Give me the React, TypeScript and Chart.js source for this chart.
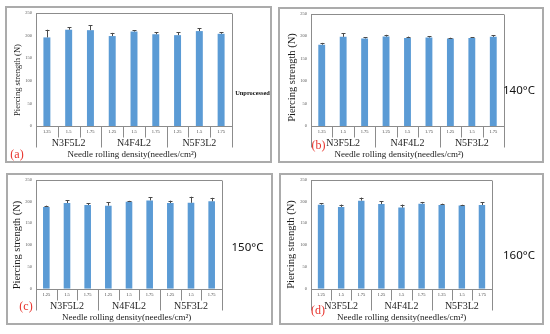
import React, { useEffect, useRef } from 'react';
import { Chart, registerables } from 'chart.js';
Chart.register(...registerables);

// ---- data ----
const densityLabels = ['1.25', '1.5', '1.75', '1.25', '1.5', '1.75', '1.25', '1.5', '1.75'];
const groupLabels = ['N3F5L2', 'N4F4L2', 'N5F3L2'];

const unprocessedValues = [196, 213, 212, 199, 209, 203, 201, 210, 204];
const unprocessedErrors = [17, 6, 11, 7, 3, 4, 6, 6, 3];

const t140Values = [181, 198.5, 195, 199, 196, 197, 195, 196, 198.5];
const t140Errors = [4, 8, 3, 4, 3, 2.5, 1.5, 2, 3];

const t150Values = [187.5, 196.5, 192, 190.5, 199.5, 202.5, 196.5, 197, 200.5];
const t150Errors = [3, 6, 4, 8, 2, 7, 5.5, 14, 8];

const t160Values = [192.8, 187.5, 202, 194, 186, 195, 192, 191, 192];
const t160Errors = [3, 5.5, 7, 6, 7, 4, 3, 1.5, 6.5];

const yTitle = 'Piercing strength (N)';
const xTitle = 'Needle rolling density(needles/cm²)';

// ---- styles ----
const SERIF = '"Liberation Serif", "Times New Roman", serif';
const SANS = '"Noto Sans", "Liberation Sans", sans-serif';
const BAR = '#5B9BD5';

type Spec = {
  letter: string;
  side: string;
  sideFont: string;
  values: number[];
  errors: number[];
  left: number; top: number; w: number; h: number;
  plotLeft: number; plotTop: number; plotRight: number; zero: number;
  yTitleX: number; yTitleY: number; yTitleSize: number;
  xTitleX: number;
  letterX: number; letterY: number;
  sideX: number; sideY: number;
};

const panels: Spec[] = [
  {
    letter: '(a)', side: 'Unprocessed', sideFont: `bold 6.4px ${SERIF}`,
    values: unprocessedValues, errors: unprocessedErrors,
    left: 5, top: 6, w: 267, h: 157,
    plotLeft: 31, plotTop: 7, plotRight: 227, zero: 120,
    yTitleX: 12.5, yTitleY: 74, yTitleSize: 8.5, xTitleX: 127,
    letterX: 12, letterY: 149, sideX: 247.5, sideY: 87,
  },
  {
    letter: '(b)', side: '140°C', sideFont: `11.5px ${SANS}`,
    values: t140Values, errors: t140Errors,
    left: 278, top: 7, w: 266, h: 156,
    plotLeft: 33, plotTop: 6, plotRight: 226, zero: 119,
    yTitleX: 14, yTitleY: 70.5, yTitleSize: 10.5, xTitleX: 121,
    letterX: 40.5, letterY: 139, sideX: 241, sideY: 84,
  },
  {
    letter: '(c)', side: '150°C', sideFont: `11.5px ${SANS}`,
    values: t150Values, errors: t150Errors,
    left: 6, top: 173, w: 267, h: 152,
    plotLeft: 30, plotTop: 5, plotRight: 216, zero: 115.7,
    yTitleX: 11, yTitleY: 72, yTitleSize: 10.5, xTitleX: 120.7,
    letterX: 20, letterY: 134, sideX: 241.5, sideY: 74.5,
  },
  {
    letter: '(d)', side: '160°C', sideFont: `11.5px ${SANS}`,
    values: t160Values, errors: t160Errors,
    left: 279, top: 173, w: 265, h: 152,
    plotLeft: 32, plotTop: 5, plotRight: 213, zero: 115.7,
    yTitleX: 12, yTitleY: 71.5, yTitleSize: 10.5, xTitleX: 122.7,
    letterX: 39, letterY: 138, sideX: 240, sideY: 83,
  },
];

function decor(spec: Spec) {
  return {
    id: 'decor' + spec.letter,
    afterDatasetsDraw(chart: any) {
      const ctx = chart.ctx;
      const ys = chart.scales.y;
      const meta = chart.getDatasetMeta(0);
      ctx.save();
      ctx.strokeStyle = '#4a4a4a';
      ctx.lineWidth = 1;
      meta.data.forEach((bar: any, i: number) => {
        const x = Math.round(bar.x) + 0.5;
        const y1 = ys.getPixelForValue(spec.values[i]);
        const y2 = ys.getPixelForValue(spec.values[i] + spec.errors[i]);
        ctx.beginPath();
        ctx.moveTo(x, y1);
        ctx.lineTo(x, y2);
        ctx.moveTo(x - 2, Math.round(y2) + 0.5);
        ctx.lineTo(x + 2, Math.round(y2) + 0.5);
        ctx.stroke();
      });
      ctx.restore();
    },
    afterDraw(chart: any) {
      const ctx = chart.ctx;
      const { left, right, top, bottom } = chart.chartArea;
      const xs = chart.scales.x;
      const { w, h } = spec;
      ctx.save();
      // panel border
      ctx.strokeStyle = '#ababab';
      ctx.lineWidth = 2;
      ctx.strokeRect(1, 1, w - 2, h - 2);

      // plot frame
      ctx.strokeStyle = '#8c8c8c';
      ctx.lineWidth = 1;
      const T = Math.round(top) + 0.5;
      const B = Math.round(bottom) + 0.5;
      ctx.beginPath();
      ctx.moveTo(left, T);
      ctx.lineTo(right, T);
      ctx.moveTo(left, B);
      ctx.lineTo(right, B);
      const n = densityLabels.length;
      const cw = (right - left) / n;
      for (let i = 0; i <= n; i++) {
        const x = Math.round(left + i * cw) + 0.5;
        const isGroup = i % 3 === 0;
        const y0 = i === 0 || i === n ? T : B;
        const y1 = B + (isGroup ? 21 : 11);
        ctx.moveTo(x, y0);
        ctx.lineTo(x, y1);
      }
      ctx.stroke();

      // density tick labels
      ctx.fillStyle = '#404040';
      ctx.font = `4.5px ${SERIF}`;
      ctx.textAlign = 'center';
      ctx.textBaseline = 'middle';
      densityLabels.forEach((lab, i) => {
        ctx.fillText(lab, xs.getPixelForValue(i), bottom + 6);
      });

      // group labels
      ctx.fillStyle = '#262626';
      ctx.font = `10px ${SERIF}`;
      groupLabels.forEach((g, k) => {
        const cx = left + (k * 3 + 1.5) * cw;
        ctx.fillText(g, cx, bottom + 17.5);
      });

      // x title
      ctx.font = `9px ${SERIF}`;
      ctx.fillStyle = '#1a1a1a';
      ctx.fillText(xTitle, spec.xTitleX, bottom + 29);

      // y title
      ctx.save();
      ctx.translate(spec.yTitleX, spec.yTitleY);
      ctx.rotate(-Math.PI / 2);
      ctx.font = `${spec.yTitleSize}px ${SERIF}`;
      ctx.fillStyle = '#1a1a1a';
      ctx.fillText(yTitle, 0, 0);
      ctx.restore();

      // panel letter
      ctx.font = `12px ${SERIF}`;
      ctx.fillStyle = '#e8332c';
      ctx.fillText(spec.letter, spec.letterX, spec.letterY);

      // side label
      ctx.font = spec.sideFont;
      ctx.fillStyle = '#111111';
      ctx.fillText(spec.side, spec.sideX, spec.sideY);
      ctx.restore();
    },
  };
}

function Panel({ spec }: { spec: Spec }) {
  const ref = useRef<HTMLCanvasElement>(null);
  useEffect(() => {
    if (!ref.current) return;
    const chart = new Chart(ref.current, {
      type: 'bar',
      data: {
        labels: densityLabels,
        datasets: [
          {
            data: spec.values,
            backgroundColor: BAR,
            borderWidth: 0,
            barPercentage: 0.32,
            categoryPercentage: 1,
          },
        ],
      },
      options: {
        responsive: false,
        animation: false,
        devicePixelRatio: 1,
        layout: {
          padding: {
            left: 0,
            top: spec.plotTop,
            right: spec.w - spec.plotRight,
            bottom: spec.h - spec.zero,
          },
        },
        plugins: { legend: { display: false }, tooltip: { enabled: false } },
        scales: {
          x: { display: false },
          y: {
            min: 0,
            max: 250,
            ticks: {
              stepSize: 50,
              font: { size: 4.5, family: SERIF },
              color: '#595959',
              padding: 4,
            },
            grid: { display: false, drawTicks: false },
            border: { display: false },
            afterFit: (s: any) => {
              s.width = spec.plotLeft;
            },
          },
        },
      } as any,
      plugins: [decor(spec)],
    });
    return () => chart.destroy();
  }, [spec]);
  return (
    <div style={{ position: 'absolute', left: spec.left, top: spec.top, width: spec.w, height: spec.h }}>
      <canvas ref={ref} width={spec.w} height={spec.h} style={{ display: 'block' }} />
    </div>
  );
}

export default function App() {
  return (
    <div style={{ position: 'fixed', left: 0, top: 0, width: 550, height: 334, background: '#fff' }}>
      {panels.map((p) => (
        <Panel key={p.letter} spec={p} />
      ))}
    </div>
  );
}
